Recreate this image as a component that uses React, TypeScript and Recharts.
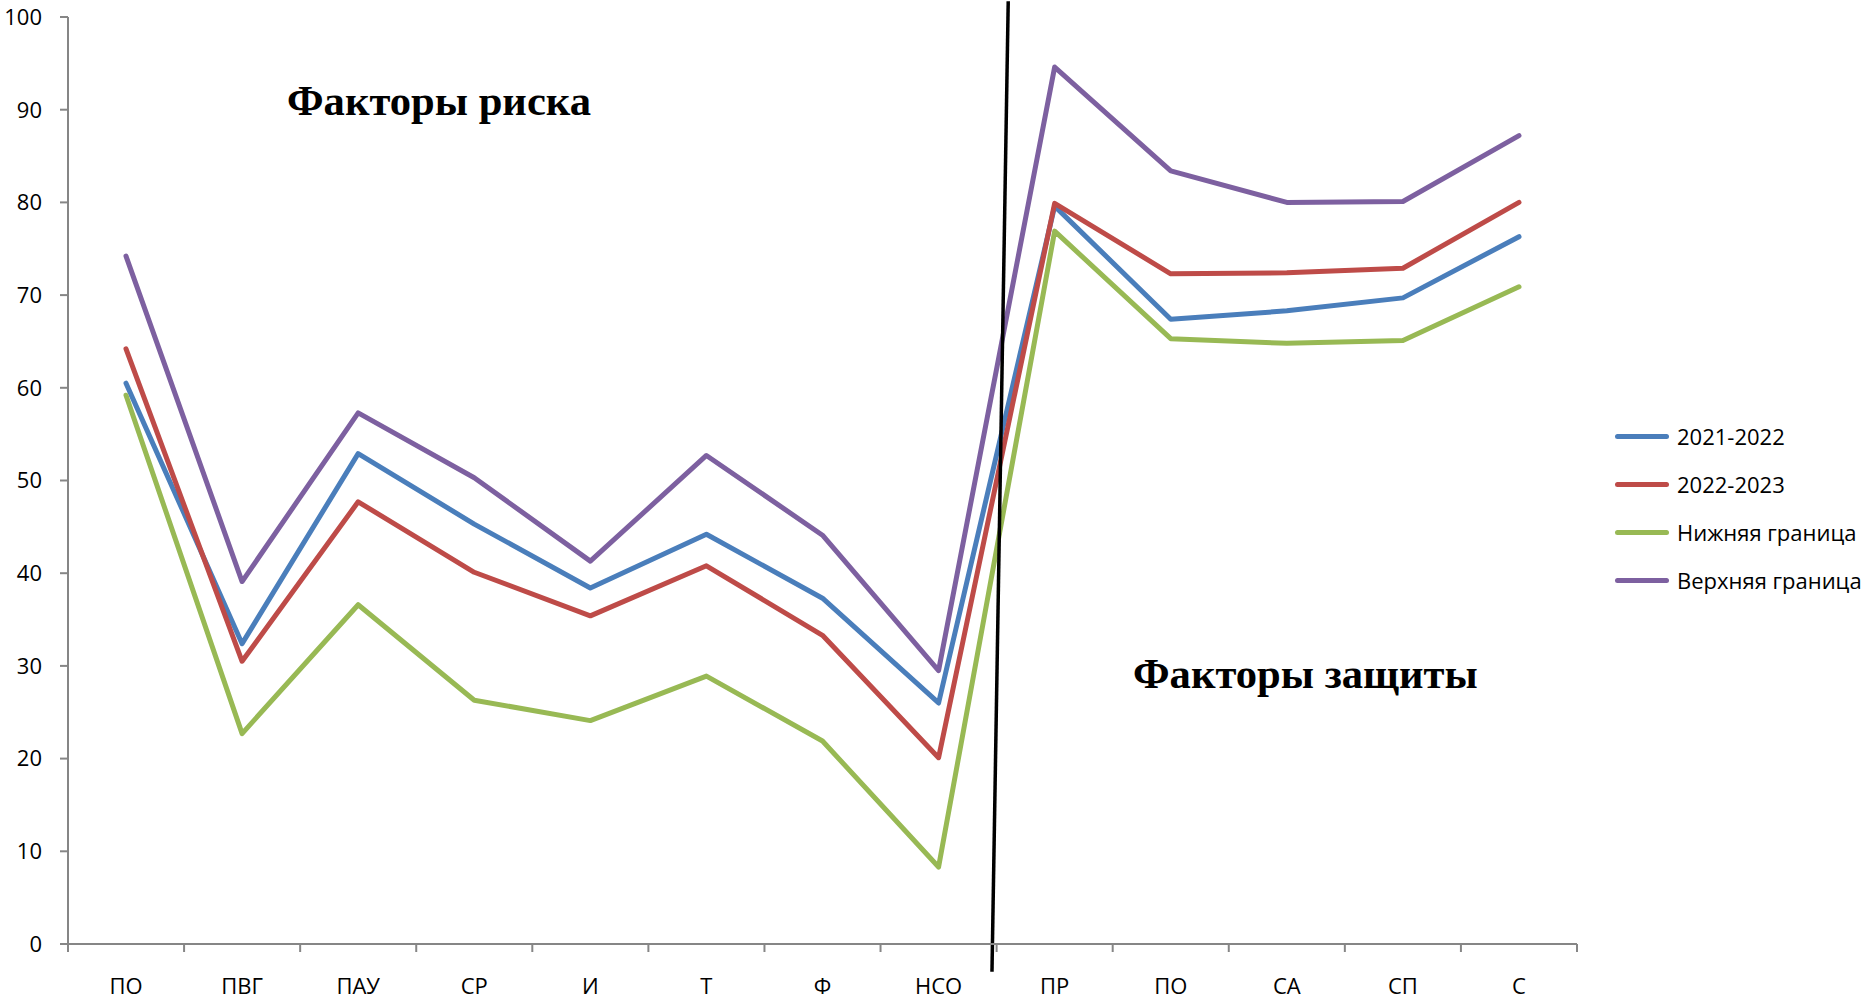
import { LineChart, Line, XAxis, YAxis, ReferenceLine } from 'recharts';

// категории (факторы риска, затем факторы защиты)
const categories = ['ПО', 'ПВГ', 'ПАУ', 'СР', 'И', 'Т', 'Ф', 'НСО', 'ПР', 'ПО', 'СА', 'СП', 'С'];

const values2021 = [60.5, 32.4, 52.9, 45.3, 38.4, 44.2, 37.3, 26.0, 79.6, 67.4, 68.3, 69.7, 76.3];
const values2022 = [64.2, 30.5, 47.7, 40.1, 35.4, 40.8, 33.3, 20.1, 79.9, 72.3, 72.4, 72.9, 80.0];
const lowerBound = [59.2, 22.7, 36.6, 26.3, 24.1, 28.9, 21.9, 8.3, 76.9, 65.3, 64.8, 65.1, 70.9];
const upperBound = [74.2, 39.1, 57.3, 50.3, 41.3, 52.7, 44.1, 29.5, 94.6, 83.4, 80.0, 80.1, 87.2];

const yTicks = [0, 10, 20, 30, 40, 50, 60, 70, 80, 90, 100];

// разделительная линия между группами факторов (в координатах данных)
const dividerTop = { x: 8.1, y: 101.7 };
const dividerBottom = { x: 7.96, y: -3.0 };

const series = [
  { key: 's2021', name: '2021-2022', color: '#4A7EBB', values: values2021 },
  { key: 's2022', name: '2022-2023', color: '#BE4B48', values: values2022 },
  { key: 'lower', name: 'Нижняя граница', color: '#98B954', values: lowerBound },
  { key: 'upper', name: 'Верхняя граница', color: '#7D60A0', values: upperBound },
];

const data = categories.map((name, i) => {
  const row: Record<string, string | number> = { name };
  series.forEach(s => {
    row[s.key] = s.values[i];
  });
  return row;
});

const boundaryTicks = [...categories.map((_, i) => i), categories.length];

const FONT = '"Open Sans", sans-serif';
const SERIF = '"Liberation Serif", "Times New Roman", serif';
const AXIS = '#868686';
const HALF_BAND = 58; // половина ширины категории: точки в центрах категорий

export default function App() {
  return (
    <div style={{ position: 'absolute', left: 0, top: 0, width: 1870, height: 1001, background: '#fff' }}>
      <LineChart
        width={1870}
        height={1001}
        data={data}
        margin={{ top: 17, right: 293, left: 0, bottom: 0 }}
      >
        {/* подписи категорий */}
        <XAxis
          xAxisId="zlabels"
          dataKey="name"
          padding={{ left: HALF_BAND, right: HALF_BAND }}
          height={45}
          axisLine={false}
          tickLine={false}
          tickSize={0}
          tickMargin={22}
          interval={0}
          tick={{ fill: '#000', fontSize: 22, fontFamily: FONT }}
        />
        {/* ось с делениями между категориями */}
        <XAxis
          xAxisId="aticks"
          type="number"
          dataKey="x"
          domain={[0, categories.length]}
          ticks={boundaryTicks}
          allowDataOverflow
          height={12}
          tickSize={8}
          tickFormatter={() => ''}
          stroke={AXIS}
          axisLine={{ stroke: AXIS, strokeWidth: 2 }}
          tickLine={{ stroke: AXIS, strokeWidth: 2 }}
        />
        <YAxis
          width={68}
          domain={[0, 100]}
          ticks={yTicks}
          interval={0}
          tickSize={8}
          tickMargin={18}
          axisLine={{ stroke: AXIS, strokeWidth: 2 }}
          tickLine={{ stroke: AXIS, strokeWidth: 2 }}
          tick={{ fill: '#000', fontSize: 22, fontFamily: FONT }}
        />
        {series.map(s => (
          <Line
            key={s.key}
            xAxisId="zlabels"
            type="linear"
            dataKey={s.key}
            name={s.name}
            stroke={s.color}
            strokeWidth={5}
            strokeLinejoin="round"
            strokeLinecap="round"
            dot={false}
            activeDot={false}
            isAnimationActive={false}
          />
        ))}
        <ReferenceLine
          xAxisId="aticks"
          segment={[dividerTop, dividerBottom]}
          stroke="#000"
          strokeWidth={3.5}
          ifOverflow="visible"
        />
      </LineChart>

      {/* подписи групп */}
      <svg
        width={1870}
        height={1001}
        style={{ position: 'absolute', left: 0, top: 0, pointerEvents: 'none' }}
      >
        <text x={287} y={115} fontFamily={SERIF} fontWeight="bold" fontSize={42.6} fill="#000">
          Факторы риска
        </text>
        <text x={1133} y={688} fontFamily={SERIF} fontWeight="bold" fontSize={42.6} fill="#000">
          Факторы защиты
        </text>
      </svg>

      {/* легенда */}
      <div style={{ position: 'absolute', left: 1615, top: 412, fontFamily: FONT, fontSize: 22, color: '#000' }}>
        {series.map(s => (
          <div key={s.key} style={{ display: 'flex', alignItems: 'center', height: 48 }}>
            <div style={{ width: 54, height: 5, borderRadius: 3, background: s.color, marginRight: 8 }} />
            <span>{s.name}</span>
          </div>
        ))}
      </div>
    </div>
  );
}
